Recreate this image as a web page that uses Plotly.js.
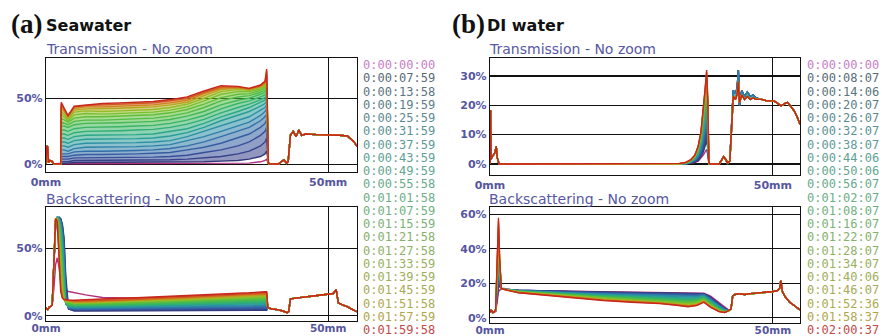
<!DOCTYPE html>
<html><head><meta charset="utf-8">
<script src="https://cdn.plot.ly/plotly-3.0.1.min.js"></script>
<style>html,body{margin:0;padding:0;background:#fff}#chart{width:882px;height:336px}</style>
</head><body><div id="chart"></div>
<script>
// ---------- legend labels ----------
const timesA = ['0:00:00:00','0:00:07:59','0:00:13:58','0:00:19:59','0:00:25:59','0:00:31:59','0:00:37:59','0:00:43:59','0:00:49:59','0:00:55:58','0:01:01:58','0:01:07:59','0:01:15:59','0:01:21:58','0:01:27:58','0:01:33:59','0:01:39:59','0:01:45:59','0:01:51:58','0:01:57:59','0:01:59:58'];
const timesB = ['0:00:00:00','0:00:08:07','0:00:14:06','0:00:20:07','0:00:26:07','0:00:32:07','0:00:38:07','0:00:44:06','0:00:50:06','0:00:56:07','0:01:02:07','0:01:08:07','0:01:16:07','0:01:22:07','0:01:28:07','0:01:34:07','0:01:40:06','0:01:46:07','0:01:52:36','0:01:58:37','0:02:00:37'];
const lineColors = ['#b0307c','#34387a','#36428a','#364f98','#355ea2','#336ea8','#2f80a8','#2c90a4','#2a9c98','#2ca688','#30ae76','#38b464','#44b854','#52bc46','#62be3a','#78c030','#94bc28','#b4a820','#cc861c','#d05a1c','#c8281c'];
const labelColors = ['#c87ec8','#586a78','#5a7480','#5a7e88','#5c8a90','#5c9294','#5e9a96','#60a094','#64a690','#68aa8c','#6cae86','#72b07e','#7ab276','#86b06c','#90b066','#98b060','#a0ae5a','#a6ac54','#acaa50','#b0a64c','#c24848'];

// ---------- (a) Seawater, Transmission ----------
const aT_startX = [0, 0.15, 0.3, 0.45, 0.7, 1.0, 1.4, 2.0, 2.6];
const aT_startY = [0.5, 14, 13, 1.5, 3, 2.5, 0.5, 0.5, 0.5];
const aT_x = [2.7, 3.2, 3.9, 5, 7, 10, 13, 16, 19, 22, 25, 28, 31, 34, 36, 38, 38.8, 39.1, 39.4];
const aT_vals = [
 [1,1,1,1,1,0.5,0.5,0.5,0.5,0.5,0.5,0.5,0.5,0.5,1,2,3,4,0.5],
 [1,1,1,1.5,1.5,1.5,1.5,1.5,1.5,1.5,2,2,2.5,3,4,6,8,10,1],
 [2,2,2,3,3,3,3,3,3.5,3.5,4,5,6,8,10,14,17,20,1],
 [4,4,4,5,5,5,5,5,5.5,6,7,9,11,14,17,22,25,28,1],
 [6,6,6,7,7.5,7.5,7.5,8,8.5,9,11,13,16,20,23,28,31,34,1],
 [8,8,8,9.5,10,10,10,10.5,11,12,14,17,21,25,28,33,36,38,1],
 [11,11,10,12,13,13,13,13.5,14,15,18,21,25,29,32,37,40,42,1],
 [14,14,13,15,16,16,16,16.5,17,18,21,25,29,33,36,41,43,45,1],
 [17,17,16,18,19,19,19,19.5,20,21.5,24,28,33,37,40,44,46,48,1],
 [20,20,19,21,22,22,22,22.5,23,25,27,31,36,40,43,47,48.5,50,1],
 [23,23,22,24,25,25,25.5,26,26.5,28,30.5,34,39,43,45.5,49,50.5,52,1],
 [26,26,25,27,28,28,28.5,29,29.5,31,33.5,37,42,46,48,51,52.5,54,1],
 [29,29,28,30,31,31,31.5,32,32.5,34,36.5,40,45,48.5,50,53,54.5,56,1],
 [32,31,30,32.5,33.5,33.5,34,34.5,35,36.5,39,43,48,51,52,54.5,56,58,1],
 [35,34,32,35,36,36,36.5,37,37.5,39,41.5,45.5,50.5,53,53.5,56,57.5,60,1],
 [38,36,33,37.5,38.5,38,38.5,39,39.5,41,43.5,48,53,55,55,57,58.5,62,1],
 [40,38,34,39.5,40.5,40,40.5,41,41.5,43,45.5,50,55,56.5,56,58,59.5,64,1],
 [42,40,35,41,42,42,42.5,43,43.5,45,47,52,56.5,57.5,56.5,58.5,60.5,66,1],
 [44,41,36,42.5,43.5,43.5,44,44.5,45,46.5,48.5,53.5,57.5,58,57,59,61.5,68,1],
 [45.5,42,36.5,43.5,44.5,45,45.5,46,46.5,48,50,54.5,58.5,58.5,57.2,59.5,62,70,1],
 [47,43,37,44,45,46,46.5,47,47.5,49,51,55.5,59.5,59,57.5,60,63,72,1]
];
const aT_tailX = [39.6, 41.2, 41.8, 42.2, 42.6, 42.9, 43.3, 43.8, 44.3, 44.8, 45.3, 46, 48, 50, 52, 53.4, 54, 54.6, 55.1];
const aT_tailY = [0.3, 0.3, 2.5, 3.5, 1, 2, 22, 25, 21, 26, 22, 23, 22.5, 22.5, 22, 21.5, 19.5, 17, 13.5];

// ---------- (a) Seawater, Backscattering ----------
const aB_startX = [0, 0.3, 0.6, 0.9];
const aB_startY = [6, 4.5, 6.5, 7];
const aB_x = [1.1, 1.4, 1.7, 2.0, 2.3, 2.6, 2.9, 3.2, 3.5, 4.0, 5, 7, 10, 13, 16, 20, 24, 28, 32, 36, 38.8, 39.1];
const aB_vals = [
 [8,20,38,43,36,26,21,19.5,18.5,18, 17,15.5,13.5,13,13,13.5,14,14.5,15,16,17,17],
 [8,35,66,72,73,72,68,58,30,5, 3.5,3.5,3.5,3.5,3.6,3.6,3.7,3.8,3.8,3.9,4.0,4.0],
 [8,36,67,72,73,72,67,55,25,5, 4.0,4.0,4.1,4.1,4.2,4.3,4.4,4.5,4.5,4.6,4.7,4.7],
 [8,36,67,72,73,71,66,52,20,5.5, 4.4,4.4,4.5,4.6,4.7,4.8,4.9,5.0,5.1,5.3,5.4,5.4],
 [8,37,68,73,73,71,64,48,16,5.5, 4.8,4.8,4.9,5.0,5.2,5.3,5.4,5.6,5.8,6.0,6.1,6.1],
 [8,37,68,73,72,70,62,44,12,6, 5.2,5.2,5.3,5.5,5.6,5.8,6.0,6.2,6.4,6.6,6.8,6.8],
 [8,38,69,73,72,69,60,40,10,6, 5.6,5.6,5.7,5.9,6.1,6.3,6.5,6.7,7.0,7.3,7.5,7.5],
 [8,38,69,73,72,68,57,35,9,6.5, 6.0,6.0,6.2,6.4,6.6,6.8,7.0,7.3,7.6,8.0,8.2,8.2],
 [8,39,70,73,72,67,54,30,8.5,7, 6.4,6.4,6.6,6.8,7.0,7.3,7.6,7.9,8.2,8.6,8.9,8.9],
 [8,39,70,73,71,65,50,26,8.5,7, 6.8,6.8,7.0,7.2,7.5,7.8,8.1,8.5,8.9,9.3,9.6,9.6],
 [8,40,70,73,71,63,46,22,9,7.5, 7.2,7.2,7.4,7.7,8.0,8.3,8.7,9.1,9.5,10.0,10.3,10.3],
 [8,40,71,73,70,60,42,18,9,8, 7.6,7.6,7.8,8.1,8.4,8.8,9.2,9.7,10.1,10.6,11.0,11.0],
 [8,41,71,73,69,57,37,15,9.5,8.5, 8.0,8.0,8.2,8.5,8.9,9.3,9.8,10.3,10.8,11.3,11.7,11.7],
 [8,41,71,72,67,53,32,13,10,9, 8.4,8.4,8.7,9.0,9.4,9.8,10.3,10.8,11.4,12.0,12.4,12.4],
 [8,42,71,72,65,48,27,12,10,9.5, 8.8,8.8,9.1,9.4,9.8,10.3,10.8,11.4,12.0,12.7,13.1,13.1],
 [8,42,72,72,62,42,22,12,10.5,10, 9.2,9.2,9.5,9.9,10.3,10.8,11.4,12.0,12.7,13.4,13.8,13.8],
 [8,43,72,71,58,36,18,12,11,10.5, 9.6,9.6,9.9,10.3,10.8,11.3,11.9,12.6,13.3,14.0,14.5,14.5],
 [8,43,72,71,55,30,16,12,11,11, 10.0,10.0,10.4,10.8,11.2,11.8,12.5,13.2,13.9,14.7,15.2,15.2],
 [8,44,72,71,52,25,14.5,12,11.5,11, 10.4,10.4,10.8,11.2,11.7,12.3,13.0,13.8,14.5,15.3,15.9,15.9],
 [8,44,72,70,48,21,13.5,12,11.5,11.5, 10.8,10.9,11.2,11.7,12.2,12.8,13.5,14.3,15.1,16.0,16.6,16.6],
 [8,45,72,70,45,18,13,12,12,11.6, 11.5,12.0,12.5,13.0,13.3,14.0,14.5,15.5,16.0,17.0,17.8,17.8]
];
const aB_tailX = [39.3, 40, 41, 42, 42.7, 43.0, 43.3, 44, 45, 46, 47, 48, 49, 50, 50.9, 51.4, 51.8, 52.5, 53.5, 54.3, 55.1];
const aB_tailY = [6, 5, 4.5, 3.5, 2.2, 3, 12.5, 13, 13.5, 14, 14.5, 15, 15.5, 16, 16.5, 19.6, 9.5, 8, 6.5, 4.5, 3];

// ---------- (b) DI water, Transmission ----------
const bT_startX = [0, 0.1, 0.2, 0.35, 0.6, 0.9, 1.1, 1.3, 1.6, 33.0];
const bT_startY = [0, 18.4, 1.5, 2.5, 3, 4, 6, 2, 0, 0];
const bT_x = [33.5, 34.5, 35.5, 36.2, 36.8, 37.3, 37.7, 38.0, 38.3, 38.5, 38.7];
const bT_vals = [
 [0,0,0.3,0.5,1,2,3,4,5,3,0],
 [0,0,0.3,0.6,1.2,2.5,4,6,8,5,0],
 [0,0,0.4,0.8,1.6,3,5,7.5,9.5,6,0],
 [0,0.1,0.5,1,2,3.5,6,9,11,7,0],
 [0,0.1,0.5,1.1,2.3,4,7,10,12.5,8,0],
 [0,0.1,0.6,1.3,2.6,4.8,8,11.5,14,9,0],
 [0,0.1,0.7,1.4,2.9,5.4,9,12.5,15.5,10,0],
 [0,0.1,0.7,1.6,3.2,6,10,14,17,11,0],
 [0,0.1,0.8,1.7,3.5,6.6,11,15,18.5,12,0],
 [0,0.2,0.9,1.9,3.8,7.2,12,16.5,20,13,0],
 [0,0.2,0.9,2,4.1,7.8,13,17.5,21.5,14,0.1],
 [0,0.2,1,2.2,4.4,8.4,14,19,23,15,0.1],
 [0,0.2,1.1,2.3,4.7,9,14.8,20,24.5,16,0.1],
 [0.1,0.3,1.1,2.4,4.9,9.4,15.5,21,25.5,17,0.2],
 [0.1,0.3,1.2,2.5,5.1,9.8,16,22,26.5,18,0.2],
 [0.1,0.3,1.2,2.6,5.3,10.1,16.5,22.8,27.5,18.5,0.2],
 [0.1,0.3,1.3,2.7,5.5,10.4,17,23.5,28.5,19.5,0.3],
 [0.1,0.4,1.3,2.8,5.7,10.6,17.3,24,29.5,20,0.3],
 [0.1,0.4,1.4,2.9,5.8,10.8,17.6,24.5,30.5,21,0.4],
 [0.2,0.4,1.4,2.9,5.9,10.9,17.8,24.8,31.3,21.5,0.4],
 [0.2,0.5,1.5,3,6,11,18,25,32,22,0.5]
];
const bT_tailX = [38.9, 40.5, 41.0, 41.3, 41.7, 42.0, 42.4, 42.7, 43.0, 43.4, 43.7, 43.9, 44.1, 44.5, 45, 45.5, 46, 46.5, 47, 48, 49, 50.2, 51.0, 51.5, 52.0, 52.6, 53.2, 53.8, 54.3, 54.8];
const bT_tailLate = [0, 0, 1.5, 2.5, 1.5, 0.3, 1, 14, 23, 22, 24, 28, 21, 23.5, 22, 23, 22, 22.5, 22, 22, 21.5, 21.5, 20.5, 19.8, 20.5, 21, 19.5, 18, 16, 13.5];
const bT_tailEarly = [0, 0, 1.5, 2.5, 1.5, 0.3, 1, 15, 25, 24, 26, 32, 20, 25, 23, 24.5, 23, 23.5, 22.5, 22, 21.5, 21.5, 20.5, 19.8, 20.5, 21, 19.5, 18, 16, 13.5];

// ---------- (b) DI water, Backscattering ----------
const bB_startX = [0, 0.2, 0.5, 0.8];
const bB_startY = [3, 4.5, 3, 3.5];
const bB_x = [1.0, 1.3, 1.5, 1.7, 2.0, 2.5, 3, 5, 10, 15, 20, 25, 30, 33, 35, 36.5, 37.8, 39, 40.5, 41.5, 42.2];
const bB_vals = [
 [3.5,10,15,16,16.5,16.5,16.2, 15.8,15.5,15.2,15,14.8,14.6,14.4,14.3,14.3,14.2,12.5,8.5,6,4.5],
 [4,12,18,18,17,17,16.5, 16,15.5,15.2,15,14.8,14.5,14.3,14.2,14.2,14,12,8,5.5,4.2],
 [4,14,20,19,17,16.9,16.5, 15.9,15.4,15.0,14.7,14.5,14.2,13.9,13.8,13.8,13.8,11.6,7.7,5.3,4.2],
 [4,15,22,20,17,16.9,16.5, 15.9,15.3,14.8,14.5,14.2,13.8,13.5,13.4,13.5,13.6,11.3,7.4,5.1,4.2],
 [4,17,24,21,17,16.9,16.4, 15.8,15.1,14.6,14.2,13.9,13.5,13.2,13.0,13.1,13.4,11.0,7.1,5.0,4.2],
 [4,18,26,22,17,16.8,16.4, 15.8,15.0,14.4,14.0,13.6,13.1,12.8,12.6,12.8,13.2,10.6,6.8,4.8,4.2],
 [4.2,19,28,23,17,16.8,16.4, 15.7,14.9,14.2,13.7,13.3,12.8,12.4,12.2,12.4,13.0,10.3,6.5,4.6,4.2],
 [4.2,21,30,24,17,16.8,16.3, 15.6,14.8,14.0,13.5,13.0,12.4,12.0,11.8,12.0,12.7,10.0,6.2,4.4,4.1],
 [4.3,22,32,25,17,16.7,16.3, 15.6,14.7,13.8,13.2,12.7,12.0,11.6,11.3,11.6,12.4,9.6,5.9,4.2,4.1],
 [4.3,24,34,26,17,16.7,16.3, 15.5,14.6,13.6,12.9,12.3,11.7,11.2,10.9,11.2,12.1,9.2,5.6,4.0,4.1],
 [4.4,25,36,27,17,16.7,16.2, 15.4,14.4,13.4,12.6,12.0,11.3,10.8,10.5,10.8,11.8,8.9,5.3,3.9,4.1],
 [4.4,27,38,28,17,16.7,16.2, 15.4,14.3,13.2,12.4,11.7,10.9,10.4,10.0,10.4,11.5,8.5,5.0,3.7,4.1],
 [4.5,28,40,29,17,16.6,16.2, 15.3,14.2,13.0,12.1,11.3,10.5,10.0,9.6,10.0,11.2,8.2,4.8,3.6,4.1],
 [4.5,30,42,30,17,16.6,16.2, 15.2,14.0,12.8,11.8,11.0,10.1,9.5,9.1,9.6,10.9,7.8,4.6,3.5,4.0],
 [4.6,31,44,31,17,16.6,16.1, 15.1,13.9,12.6,11.5,10.6,9.7,9.1,8.7,9.2,10.6,7.5,4.4,3.4,4.0],
 [4.6,33,46,32,17,16.6,16.1, 15.0,13.8,12.3,11.2,10.3,9.4,8.7,8.2,8.7,10.2,7.2,4.2,3.3,4.0],
 [4.7,34,49,33,17,16.5,16.1, 14.9,13.6,12.1,10.9,10.0,9.1,8.3,7.8,8.3,9.9,6.9,4.0,3.2,4.0],
 [4.8,36,52,33,17,16.5,16.1, 14.8,13.5,11.9,10.6,9.7,8.8,7.9,7.3,7.9,9.6,6.6,3.8,3.1,4.0],
 [4.8,37,54,34,17,16.5,16.0, 14.7,13.3,11.7,10.4,9.4,8.6,7.6,6.9,7.5,9.3,6.4,3.7,3.0,4.0],
 [4.9,39,56,34,17,16.5,16.0, 14.6,13.2,11.5,10.2,9.2,8.4,7.4,6.6,7.2,9.1,6.2,3.6,3.0,4.0],
 [5,40,58,35,17,16.5,16.0, 14.5,13.0,11.2,10.0,9.0,8.2,7.2,6.4,7.0,9.0,6.0,3.5,3.0,4.0]
];
const bB_tailX = [42.6, 42.9, 43.3, 44, 45, 46, 47, 48, 49, 50, 50.8, 51.2, 51.4, 51.7, 52.2, 53, 54, 54.8];
const bB_tailY = [5, 12.5, 13.5, 14, 13.5, 14, 14.2, 14.5, 14.8, 15.2, 15.8, 17, 21.5, 15, 12, 9, 6.5, 4.5];

// ---------- build traces ----------
function rgba(hex, a) {
  const n = parseInt(hex.slice(1), 16);
  return 'rgba(' + (n >> 16) + ',' + ((n >> 8) & 255) + ',' + (n & 255) + ',' + a + ')';
}
const traces = [];
function addPanel(xa, ya, sx, sy, fx, vals, tx, tyFor, alpha) {
  vals.forEach((row, k) => {
    traces.push({
      type: 'scatter', mode: 'lines', xaxis: xa, yaxis: ya,
      x: sx.concat(fx, tx), y: sy.concat(row, tyFor(k)),
      line: {color: lineColors[k], width: 1.4},
      fill: k >= 2 ? 'tonexty' : 'none', fillcolor: rgba(lineColors[k], alpha),
      hoverinfo: 'skip', showlegend: false
    });
  });
}
addPanel('x', 'y', aT_startX, aT_startY, aT_x, aT_vals, aT_tailX, () => aT_tailY, 0.55);
addPanel('x2', 'y2', aB_startX, aB_startY, aB_x, aB_vals, aB_tailX, () => aB_tailY, 0.7);
addPanel('x3', 'y3', bT_startX, bT_startY, bT_x, bT_vals, bT_tailX, k => (k <= 6 ? bT_tailEarly : bT_tailLate), 0.75);
addPanel('x4', 'y4', bB_startX, bB_startY, bB_x, bB_vals, bB_tailX, () => bB_tailY, 0.7);

// ---------- layout ----------
const W = 882, H = 336;
const px = v => v / W, py = v => 1 - v / H;
const tickFont = {family: 'DejaVu Sans', size: 11, color: '#5656a0', weight: 'bold'};
const tickFontLow = {family: 'DejaVu Sans', size: 10.5, color: '#5656a0', weight: 'bold'};
function xax(d0, d1, rng, anchor, so, tf) {
  return {domain: [px(d0), px(d1)], range: rng, anchor: anchor, tickvals: [0, 50], ticktext: ['0mm', '50mm'],
    showgrid: true, gridcolor: '#111', gridwidth: 1.2, zeroline: false, showline: true, mirror: true,
    linecolor: '#111', linewidth: 1.2, ticks: '', tickfont: tf, ticklabelstandoff: so, fixedrange: true};
}
function yax(d0, d1, rng, anchor, tv) {
  return {domain: [py(d1), py(d0)], range: rng, anchor: anchor, tickvals: tv, ticktext: tv.map(v => v + '%'),
    showgrid: true, gridcolor: '#111', gridwidth: 1.2, zeroline: false, showline: true, mirror: true,
    linecolor: '#111', linewidth: 1.2, ticks: '', tickfont: tickFont, fixedrange: true};
}
const annotations = [];
function txt(x, y, text, font, anchor) {
  annotations.push({xref: 'paper', yref: 'paper', x: px(x), y: py(y), text: text, showarrow: false,
    xanchor: anchor || 'left', yanchor: 'middle', font: font, borderpad: 0});
}
const subFont = {family: 'DejaVu Sans', size: 14, color: '#5858a2'};
const headFont = {family: 'DejaVu Sans', size: 16, color: '#111'};
const parenFont = {family: 'Liberation Serif', size: 27, color: '#111'};
txt(10, 24, '<b>(a)</b>', parenFont);
txt(45, 26, '<b>Seawater</b>', headFont);
txt(451, 24, '<b>(b)</b>', parenFont);
txt(486, 26, '<b>DI water</b>', headFont);
txt(45, 49, 'Transmission - No zoom', subFont);
txt(45, 198.5, 'Backscattering - No zoom', subFont);
txt(488, 49, 'Transmission - No zoom', subFont);
txt(488, 198.5, 'Backscattering - No zoom', subFont);
const legFont = i => ({family: 'DejaVu Sans Mono', size: 12, color: labelColors[i]});
timesA.forEach((t, i) => txt(362, 65 + 13.25 * i, t, legFont(i)));
timesB.forEach((t, i) => txt(806, 65 + 13.25 * i, t, legFont(i)));

const layout = {
  width: W, height: H, margin: {l: 0, r: 0, t: 0, b: 0}, paper_bgcolor: '#fff', plot_bgcolor: '#fff',
  showlegend: false, hovermode: false,
  xaxis: xax(46, 357, [0, 55.1], 'y', 0, tickFont),
  yaxis: yax(58, 172, [-5.7, 80.4], 'x', [0, 50]),
  xaxis2: xax(46, 357, [0, 55.1], 'y2', -3, tickFontLow),
  yaxis2: yax(206.7, 320.7, [-3.7, 80.9], 'x2', [0, 50]),
  xaxis3: xax(490, 800, [0, 54.8], 'y3', 0, tickFont),
  yaxis3: yax(58.3, 174.7, [-3.65, 36.0], 'x3', [0, 10, 20, 30]),
  xaxis4: xax(490, 800, [0, 54.8], 'y4', -3, tickFontLow),
  yaxis4: yax(207.3, 322.7, [-2.9, 64.1], 'x4', [0, 20, 40, 60]),
  annotations: annotations
};
Plotly.newPlot('chart', traces, layout, {staticPlot: true, displayModeBar: false});
</script>
</body></html>
